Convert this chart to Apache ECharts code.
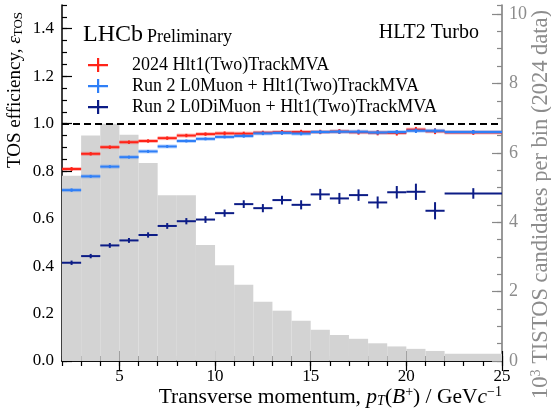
<!DOCTYPE html>
<html>
<head>
<meta charset="utf-8">
<script src="https://cdn.jsdelivr.net/npm/echarts@6/dist/echarts.min.js"></script>
<style>html,body{margin:0;padding:0;background:#fff}#main{width:551px;height:409px}</style>
</head>
<body>
<div id="main"></div>
<script>
// pT bins (GeV/c)
var binLo = [2, 3, 4, 5, 6, 7, 8, 9, 10, 11, 12, 13, 14, 15, 16, 17, 18, 19, 20, 21, 22];
var binHi = [3, 4, 5, 6, 7, 8, 9, 10, 11, 12, 13, 14, 15, 16, 17, 18, 19, 20, 21, 22, 25];
// 10^3 TISTOS candidates per bin (2024 data)
var histCounts = [5.34, 6.50, 6.84, 6.52, 5.71, 4.78, 4.78, 3.34, 2.76, 2.20, 1.71, 1.45, 1.16, 0.90, 0.75, 0.64, 0.51, 0.42, 0.35, 0.29, 0.21];
// 2024 Hlt1(Two)TrackMVA
var effRun3 = [0.809, 0.873, 0.901, 0.922, 0.927, 0.939, 0.950, 0.956, 0.959, 0.958, 0.962, 0.964, 0.965, 0.965, 0.967, 0.964, 0.962, 0.961, 0.975, 0.968, 0.963];
var errRun3 = [0.004, 0.003, 0.003, 0.003, 0.003, 0.003, 0.003, 0.003, 0.004, 0.004, 0.004, 0.005, 0.005, 0.005, 0.006, 0.006, 0.007, 0.007, 0.007, 0.008, 0.006];
// Run 2 L0Muon + Hlt1(Two)TrackMVA
var effL0Muon = [0.720, 0.778, 0.819, 0.859, 0.883, 0.904, 0.927, 0.936, 0.944, 0.948, 0.959, 0.961, 0.958, 0.965, 0.966, 0.966, 0.963, 0.965, 0.970, 0.970, 0.965];
var errL0Muon = [0.003, 0.002, 0.002, 0.002, 0.002, 0.002, 0.002, 0.002, 0.002, 0.003, 0.003, 0.003, 0.003, 0.003, 0.004, 0.004, 0.004, 0.004, 0.005, 0.005, 0.004];
// Run 2 L0DiMuon + Hlt1(Two)TrackMVA
var effL0DiMuon = [0.414, 0.442, 0.487, 0.508, 0.531, 0.569, 0.589, 0.596, 0.623, 0.661, 0.644, 0.678, 0.658, 0.702, 0.685, 0.699, 0.668, 0.711, 0.713, 0.633, 0.706];
var errL0DiMuon = [0.005, 0.005, 0.006, 0.006, 0.007, 0.008, 0.009, 0.010, 0.011, 0.012, 0.013, 0.014, 0.015, 0.019, 0.019, 0.020, 0.021, 0.022, 0.030, 0.032, 0.018];
// tick labels
var xLabelTicks = [5, 10, 15, 20, 25];
var yLeftLabelTicks = [0, 0.2, 0.4, 0.6, 0.8, 1.0, 1.2, 1.4];
var yRightLabelTicks = [0, 2, 4, 6, 8, 10];

var serif = '"Liberation Serif", "DejaVu Serif", serif';
var cRed = '#ff2419', cBlue = '#2f7ff7', cNavy = '#0c1c86';

function rows(lo, hi, v, e){
	var out = [];
	for(var i=0;i<lo.length;i++) out.push([lo[i], hi[i], v[i], e ? e[i] : 0]);
	return out;
}

function histRender(params, api){
	var a = api.coord([api.value(0), api.value(2)]);
	var b = api.coord([api.value(1), 0]);
	return {type:'rect', shape:{x:a[0], y:a[1], width:b[0]-a[0], height:b[1]-a[1]}, style:{fill:'#d3d3d3'}};
}

function errRender(color, glow){
	return function(params, api){
		var lo = api.value(0), hi = api.value(1), v = api.value(2), e = api.value(3);
		var p1 = api.coord([lo, v]), p2 = api.coord([hi, v]);
		var mid = (lo+hi)/2;
		var up = api.coord([mid, v+e]), dn = api.coord([mid, v-e]);
		var kids = [];
		if(glow){
			kids.push({type:'line', shape:{x1:p1[0], y1:p1[1], x2:p2[0], y2:p2[1]}, style:{stroke:color, lineWidth:4, opacity:0.3}});
		}
		kids.push({type:'line', shape:{x1:p1[0], y1:p1[1], x2:p2[0], y2:p2[1]}, style:{stroke:color, lineWidth:2}});
		kids.push({type:'line', shape:{x1:up[0], y1:up[1]-1, x2:dn[0], y2:dn[1]+1}, style:{stroke:color, lineWidth:2}});
		return {type:'group', children:kids};
	};
}

function xAx(pos, major, labels){
	var ax = {type:'value', position:pos, min:2, max:25, splitLine:{show:false},
		axisLine:{show:!major, lineStyle:{color:'#000', width:1.5}},
		axisTick:{inside:true, length:major ? 10 : 5, lineStyle:{color:'#000', width:1.2}},
		axisLabel:{show:false}};
	if(major) ax.axisTick.customValues = xLabelTicks;
	else ax.interval = 1;
	if(labels) ax.axisLabel = {show:true, customValues:xLabelTicks, color:'#000', fontFamily:serif, fontSize:17, margin:7};
	return ax;
}

function yAx(pos, major, labels, right){
	var col = right ? '#8c8c8c' : '#000';
	var ax = {type:'value', position:pos, min:0, max:right ? 10.26 : 1.5, splitLine:{show:false},
		axisLine:{show:!major, lineStyle:{color:right ? '#777' : '#000', width:1.5}},
		axisTick:{inside:true, length:major ? 10 : 5, lineStyle:{color:right ? '#888' : '#000', width:1.2}},
		axisLabel:{show:false}};
	var labVals = right ? yRightLabelTicks : yLeftLabelTicks;
	if(major) ax.axisTick.customValues = labVals;
	else ax.interval = right ? 0.5 : 0.05;
	if(labels) ax.axisLabel = {show:true, customValues:labVals, color:col, fontFamily:serif, fontSize:right ? 18 : 17, margin:right ? 7 : 8,
		formatter:function(v){ return right ? String(Math.round(v)) : v.toFixed(1); }};
	return ax;
}

var myChart = echarts.init(document.getElementById('main'), null, {renderer:'canvas'});
var crossIcon = 'path://M0,6 L20,6 L20,8.2 L0,8.2 Z M9,0 L11.2,0 L11.2,14 L9,14 Z';

var option = {
	animation:false,
	backgroundColor:'#fff',
	grid:{left:62, right:49, top:5, bottom:48},
	xAxis:[xAx('bottom', false, true), xAx('bottom', true, false), xAx('top', false, false), xAx('top', true, false)],
	yAxis:[yAx('left', false, true, false), yAx('left', true, false, false), yAx('right', false, true, true), yAx('right', true, false, true)],
	legend:{
		orient:'vertical', left:83, top:51, itemWidth:20, itemHeight:14, itemGap:3, icon:crossIcon,
		textStyle:{fontFamily:serif, fontSize:18, color:'#000', padding:[0,0,0,19]},
		data:['2024 Hlt1(Two)TrackMVA', 'Run 2 L0Muon + Hlt1(Two)TrackMVA', 'Run 2 L0DiMuon + Hlt1(Two)TrackMVA']
	},
	graphic:[
		{type:'text', x:83, y:35, style:{text:'LHCb', font:'24px ' + serif, fill:'#000', verticalAlign:'middle'}},
		{type:'text', x:147, y:37.5, style:{text:'Preliminary', font:'18px ' + serif, fill:'#000', verticalAlign:'middle'}},
		{type:'text', x:479, y:32.5, style:{text:'HLT2 Turbo', font:'20px ' + serif, fill:'#000', align:'right', verticalAlign:'middle'}},
		{type:'text', x:502, y:397, style:{
			text:'Transverse momentum, {i|p}{s|T}({i|B}{p|+}) / GeV{i|c}{p|\u22121}',
			font:'21.5px ' + serif, fill:'#000', align:'right', verticalAlign:'middle',
			rich:{i:{fontStyle:'italic', fontFamily:serif, fontSize:21.5}, s:{fontStyle:'italic', fontFamily:serif, fontSize:14, padding:[9,0,0,0]}, p:{fontFamily:serif, fontSize:14, padding:[0,0,9,0]}}
		}},
		{type:'text', x:15, y:12, rotation:Math.PI/2, style:{
			text:'TOS efficiency, {i|\u03b5}{s|TOS}',
			font:'19px ' + serif, fill:'#000', align:'right', verticalAlign:'middle',
			rich:{i:{fontStyle:'italic', fontFamily:serif, fontSize:19}, s:{fontFamily:serif, fontSize:13, padding:[8,0,0,0]}}
		}},
		{type:'text', x:541, y:10, rotation:Math.PI/2, style:{
			text:'10{p|3} TISTOS candidates per bin (2024 data)',
			font:'22.5px ' + serif, fill:'#8c8c8c', align:'right', verticalAlign:'middle',
			rich:{p:{fontFamily:serif, fontSize:14, padding:[0,0,9,0]}}
		}}
	],
	series:[
		{type:'custom', name:'hist', xAxisIndex:0, yAxisIndex:2, z:1, renderItem:histRender,
			encode:{x:[0,1], y:2}, data:rows(binLo, binHi, histCounts)},
		{type:'custom', name:'2024 Hlt1(Two)TrackMVA', xAxisIndex:0, yAxisIndex:0, z:3, itemStyle:{color:cRed},
			renderItem:errRender(cRed, true), encode:{x:[0,1], y:2}, data:rows(binLo, binHi, effRun3, errRun3),
			markLine:{silent:true, symbol:'none', label:{show:false}, lineStyle:{color:'#000', type:[7,4], width:2}, data:[{yAxis:1}]}},
		{type:'custom', name:'Run 2 L0Muon + Hlt1(Two)TrackMVA', xAxisIndex:0, yAxisIndex:0, z:4, itemStyle:{color:cBlue},
			renderItem:errRender(cBlue, true), encode:{x:[0,1], y:2}, data:rows(binLo, binHi, effL0Muon, errL0Muon)},
		{type:'custom', name:'Run 2 L0DiMuon + Hlt1(Two)TrackMVA', xAxisIndex:0, yAxisIndex:0, z:4, itemStyle:{color:cNavy},
			renderItem:errRender(cNavy, false), encode:{x:[0,1], y:2}, data:rows(binLo, binHi, effL0DiMuon, errL0DiMuon)}
	]
};
myChart.setOption(option);
</script>
</body>
</html>
